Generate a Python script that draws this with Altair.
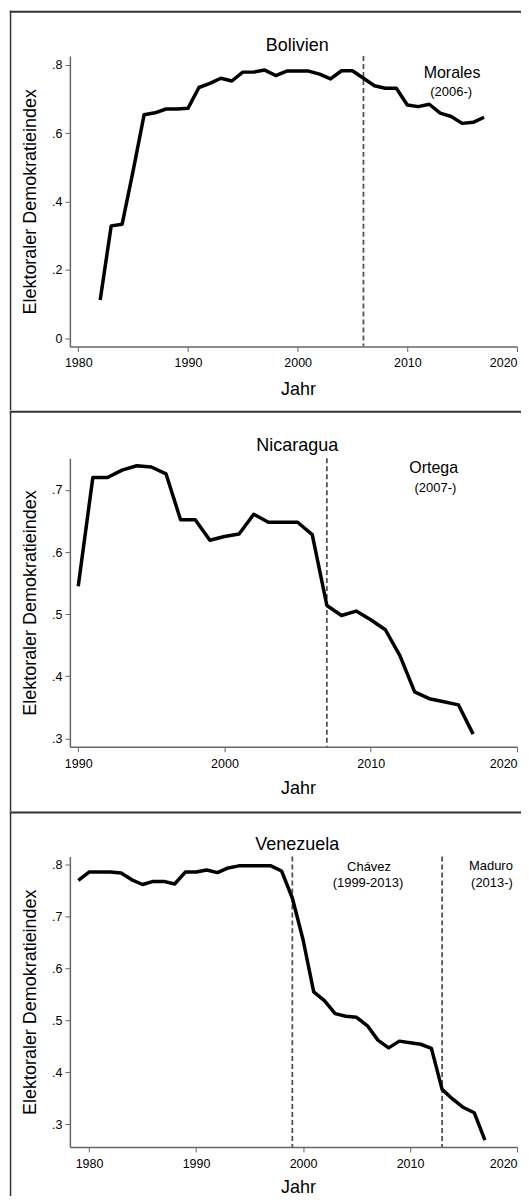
import altair as alt
import pandas as pd

# ---------------- data ----------------
bol_years = list(range(1982, 2018))
bol_vals = [0.112, 0.329, 0.334, 0.490, 0.654, 0.660, 0.671, 0.671, 0.673, 0.734,
            0.746, 0.761, 0.753, 0.779, 0.779, 0.785, 0.769, 0.782, 0.782, 0.782,
            0.773, 0.759, 0.783, 0.783, 0.761, 0.739, 0.732, 0.732, 0.683, 0.678,
            0.685, 0.659, 0.649, 0.629, 0.632, 0.647]

nic_years = list(range(1990, 2018))
nic_vals = [0.545, 0.720, 0.720, 0.732, 0.739, 0.737, 0.726, 0.652, 0.652, 0.619,
            0.625, 0.629, 0.661, 0.648, 0.648, 0.648, 0.628, 0.514, 0.498, 0.505,
            0.491, 0.475, 0.433, 0.375, 0.364, 0.359, 0.354, 0.307]

ven_years = list(range(1979, 2018))
ven_vals = [0.770, 0.786, 0.786, 0.786, 0.784, 0.771, 0.762, 0.768, 0.768, 0.763,
            0.786, 0.786, 0.790, 0.785, 0.794, 0.798, 0.798, 0.798, 0.798, 0.788,
            0.736, 0.656, 0.555, 0.538, 0.513, 0.508, 0.506, 0.490, 0.462, 0.447,
            0.460, 0.457, 0.454, 0.446, 0.367, 0.348, 0.332, 0.322, 0.269]

bol_rules = [2006]
nic_rules = [2007]
ven_rules = [1999, 2013]

bol_ann_text = ["Morales", "(2006-)"]
bol_ann_x = [2014.08, 2014.0]
bol_ann_y = [0.775, 0.722]
bol_ann_fs = [16, 13]

nic_ann_text = ["Ortega", "(2007-)"]
nic_ann_x = [2014.3, 2014.42]
nic_ann_y = [0.736, 0.703]
nic_ann_fs = [16, 13]

ven_ann_text = ["Chávez", "(1999-2013)", "Maduro", "(2013-)"]
ven_ann_x = [2006.17, 2006.07, 2017.56, 2017.66]
ven_ann_y = [0.795, 0.765, 0.797, 0.765]
ven_ann_fs = [13, 13, 13, 13]

bol_yticks = [0, 0.2, 0.4, 0.6, 0.8]
nic_yticks = [0.3, 0.4, 0.5, 0.6, 0.7]
ven_yticks = [0.3, 0.4, 0.5, 0.6, 0.7, 0.8]
bol_xticks = [1980, 1990, 2000, 2010, 2020]
nic_xticks = [1990, 2000, 2010, 2020]
ven_xticks = [1980, 1990, 2000, 2010, 2020]

FONT = "Liberation Sans"
W = 448
YLAB = "datum.value == 0 ? '0' : replace(format(datum.value, '.1f'), '0.', '.')"


def panel(years, vals, rules, ann_text, ann_x, ann_y, ann_fs, xdom, ydom,
          yticks, xticks, h, top_off, left_bottom, title, title_y, xt_y):
    df = pd.DataFrame({"Jahr": years, "Index": vals})
    rdf = pd.DataFrame({"Jahr": rules})
    adf = pd.DataFrame({"Jahr": ann_x, "Index": ann_y, "label": ann_text, "fs": ann_fs})
    one = pd.DataFrame({"k": [0]})

    xs = alt.Scale(domain=xdom, nice=False, zero=False)
    ys = alt.Scale(domain=ydom, nice=False, zero=False)
    xax = alt.Axis(values=xticks, format="d", title="Jahr", titleX=228.5, titleY=xt_y,
                   titleBaseline="alphabetic", labelPadding=5.5)
    yax = alt.Axis(values=yticks, labelExpr=YLAB, title="Elektoraler Demokratieindex",
                   titleX=-34, titleBaseline="alphabetic", labelPadding=3)
    X = alt.X("Jahr:Q", scale=xs, axis=xax)
    Y = alt.Y("Index:Q", scale=ys, axis=yax)

    border_top = alt.Chart(one).mark_rect(color="#333333").encode(
        x=alt.value(-60.2), x2=alt.value(470),
        y=alt.value(top_off - 1), y2=alt.value(top_off + 1))
    border_left = alt.Chart(one).mark_rect(color="#333333").encode(
        x=alt.value(-60.2), x2=alt.value(-58.7),
        y=alt.value(top_off - 1), y2=alt.value(left_bottom))
    ttl = alt.Chart(one).mark_text(fontSize=18, align="center", baseline="alphabetic",
                                   color="black", font=FONT).encode(
        x=alt.value(227.8), y=alt.value(title_y), text=alt.value(title))
    rl = alt.Chart(rdf).mark_rule(color="#555555", strokeWidth=1.8,
                                  strokeDash=[5, 3]).encode(x=X)
    ln = alt.Chart(df).mark_line(color="black", strokeWidth=3.5,
                                 strokeJoin="round").encode(x=X, y=Y)
    an = alt.Chart(adf).mark_text(color="black", font=FONT, align="center",
                                  baseline="middle").encode(
        x=X, y=Y, text="label:N", size=alt.Size("fs:Q", scale=None))
    return alt.layer(border_top, border_left, ttl, rl, ln, an).properties(width=W, height=h)


p1 = panel(bol_years, bol_vals, bol_rules, bol_ann_text, bol_ann_x, bol_ann_y, bol_ann_fs,
           [1979.235, 2020.0], [-0.024, 0.826], bol_yticks, bol_xticks,
           291, -44.3, 354.7, "Bolivien", -5.3, 47.7)
p2 = panel(nic_years, nic_vals, nic_rules, nic_ann_text, nic_ann_x, nic_ann_y, nic_ann_fs,
           [1989.43, 2020.0], [0.2867, 0.751], nic_yticks, nic_xticks,
           289, -46.7, 353.3, "Nicaragua", -7.7, 47.3)
p3 = panel(ven_years, ven_vals, ven_rules, ven_ann_text, ven_ann_x, ven_ann_y, ven_ann_fs,
           [1978.21, 2020.0], [0.256, 0.816], ven_yticks, ven_xticks,
           291, -44.0, 375.0, "Venezuela", -6.7, 45.5)

# negative right/bottom padding crops the figure at the page edge like the reference
chart = alt.vconcat(p1, p2, p3, spacing=0).properties(
    padding={"left": 1, "top": 1, "right": -19, "bottom": -36},
    background="white",
).configure(font=FONT).configure_view(stroke=None).configure_axis(
    domainColor="#666666", domainWidth=1.5, tickColor="#666666", tickWidth=1,
    tickSize=5, labelColor="black", labelFontSize=12.5, labelFont=FONT,
    titleFont=FONT, titleFontSize=18, titleFontWeight="normal", titleColor="black",
    grid=False,
)

chart.save("out.html", embed_options={"renderer": "svg", "actions": False})
